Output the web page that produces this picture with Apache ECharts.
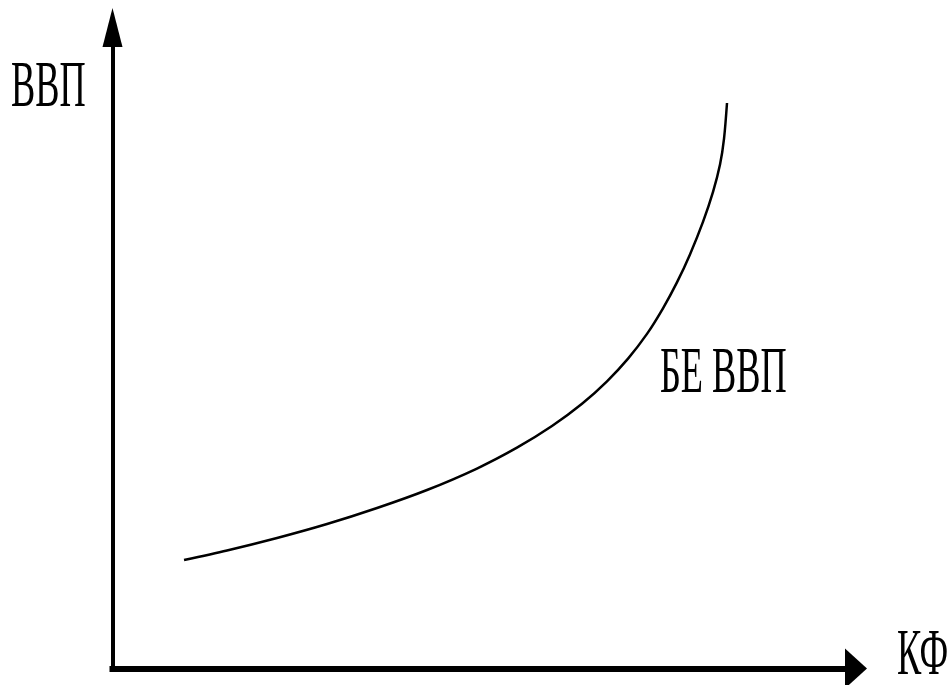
<!DOCTYPE html>
<html>
<head>
<meta charset="utf-8">
<script src="https://cdn.jsdelivr.net/npm/echarts@6/dist/echarts.min.js"></script>
<style>
  html, body { margin: 0; padding: 0; background: #fff; }
  #chart { width: 950px; height: 685px; }
</style>
</head>
<body>
<div id="chart"></div>
<script>
// Curve "БЕ ВВП" (axis units 0..100, no scale shown)
var curveX = [9.62, 15.40, 22.13, 28.85, 35.58, 42.30, 49.02, 54.40, 59.11, 63.15, 66.51, 69.34, 71.89, 74.04, 75.92, 77.67, 79.42, 80.77, 81.71, 82.25, 82.65];
var curveY = [16.93, 18.41, 20.36, 22.54, 25.04, 27.85, 31.20, 34.45, 37.83, 41.30, 44.81, 48.35, 52.20, 56.19, 60.23, 64.60, 69.67, 74.35, 78.61, 82.67, 88.22];

// Texts
var yAxisName = "ВВП";
var xAxisName = "КФ";
var curveName = "БЕ ВВП";

var chart = echarts.init(document.getElementById("chart"));

var lineData = curveX.map(function (x, i) {
  return [x, curveY[i]];
});

var textFont = '66px "Liberation Serif", "DejaVu Serif", serif';

function makeLabel(text, left, middle) {
  // condensed serif look: squeeze horizontally
  return {
    type: "text",
    x: left,
    y: middle,
    scaleX: 0.55,
    style: {
      text: text,
      x: 0,
      y: 0,
      font: textFont,
      fill: "#000",
      textAlign: "left",
      textVerticalAlign: "middle",
    },
  };
}

chart.setOption({
  animation: false,
  backgroundColor: "#fff",
  grid: {
    left: 112.5,
    right: 94,
    top: 27.5,
    bottom: 16.5,
    containLabel: false,
    outerBoundsMode: "none",
  },
  xAxis: {
    type: "value",
    min: 0,
    max: 100,
    axisLine: {
      show: true,
      symbol: ["none", "triangle"],
      symbolSize: [40, 22],
      lineStyle: { color: "#000", width: 6, cap: "square" },
    },
    axisTick: { show: false },
    axisLabel: { show: false },
    splitLine: { show: false },
  },
  yAxis: {
    type: "value",
    min: 0,
    max: 100,
    axisLine: {
      show: true,
      symbol: ["none", "triangle"],
      symbolSize: [20, 39],
      lineStyle: { color: "#000", width: 4 },
    },
    axisTick: { show: false },
    axisLabel: { show: false },
    splitLine: { show: false },
  },
  series: [
    {
      name: curveName,
      type: "line",
      data: lineData,
      smooth: 0.3,
      showSymbol: false,
      lineStyle: { color: "#000", width: 2.5 },
      z: 1,
    },
  ],
  graphic: [
    makeLabel(yAxisName, 11, 89),
    makeLabel(xAxisName, 897, 657),
    makeLabel(curveName, 660, 375),
  ],
});
</script>
</body>
</html>
